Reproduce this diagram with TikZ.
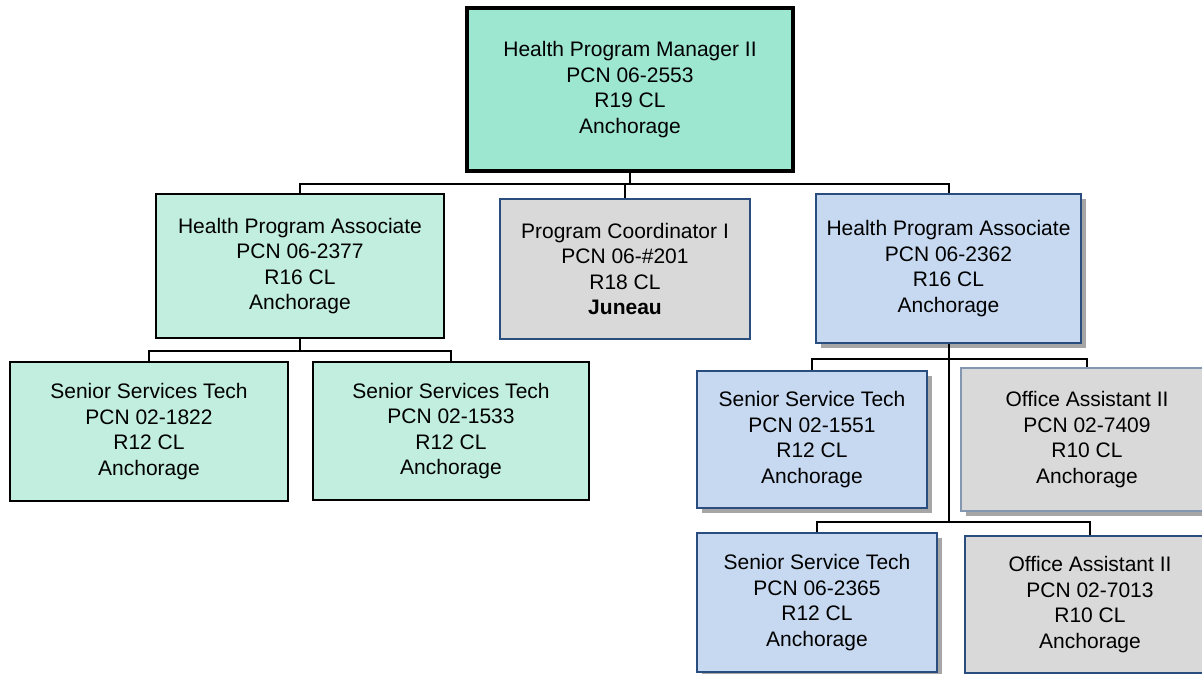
\documentclass[tikz,border=0pt]{standalone}
\usepackage{fontspec}
\setmainfont{Liberation Sans}
\usepackage{tikz}
\definecolor{head-fill}{HTML}{9DE6CF}
\definecolor{mint-fill}{HTML}{C1EEDF}
\definecolor{blue-fill}{HTML}{C6D9F1}
\definecolor{blue-line}{HTML}{2A4D80}
\definecolor{grey-fill}{HTML}{D9D9D9}
\definecolor{grey-line}{HTML}{8497B0}
\usetikzlibrary{shadows}

\begin{document}
\begin{tikzpicture}[x=1pt,y=-1pt,
  every node/.style={font=\fontsize{21}{25.5}\selectfont,align=center,inner sep=0pt},
  post/.style={rectangle,draw,line width=1.5pt},
  shade/.style={drop shadow={shadow xshift=5pt,shadow yshift=-5pt,fill=black!35,opacity=1}},
  link/.style={line width=2pt}]
\useasboundingbox (0,0) rectangle (1202,673);
\clip (0,0) rectangle (1202,673);
\path
(630,89.5)  node[post,line width=3.6pt,fill=head-fill,minimum width=326,minimum height=163] (mgr)
            {Health Program Manager II\\PCN 06-2553\\R19 CL\\Anchorage}
(300,266)   node[post,fill=mint-fill,minimum width=288,minimum height=144] (hpaL)
            {Health Program Associate\\PCN 06-2377\\R16 CL\\Anchorage}
(625,269)   node[post,draw=blue-line,fill=grey-fill,minimum width=250,minimum height=140] (pc)
            {Program Coordinator I\\PCN 06-\#201\\R18 CL\\\textbf{Juneau}}
(948.5,268.5) node[post,shade,draw=blue-line,fill=blue-fill,minimum width=265,minimum height=149] (hpaR)
            {Health Program Associate\\PCN 06-2362\\R16 CL\\Anchorage}
(149,431.5) node[post,fill=mint-fill,minimum width=278,minimum height=139] (sstA)
            {Senior Services Tech\\PCN 02-1822\\R12 CL\\Anchorage}
(451,431)   node[post,fill=mint-fill,minimum width=276,minimum height=138] (sstB)
            {Senior Services Tech\\PCN 02-1533\\R12 CL\\Anchorage}
(812,439.5) node[post,shade,draw=blue-line,fill=blue-fill,minimum width=230,minimum height=137] (sstC)
            {Senior Service Tech\\PCN 02-1551\\R12 CL\\Anchorage}
(1087,439.5) node[post,shade,draw=grey-line,fill=grey-fill,minimum width=252,minimum height=143] (oaA)
            {Office Assistant II\\PCN 02-7409\\R10 CL\\Anchorage}
(817,602.5) node[post,shade,draw=blue-line,fill=blue-fill,minimum width=240,minimum height=139] (sstD)
            {Senior Service Tech\\PCN 06-2365\\R12 CL\\Anchorage}
(1090,604.5) node[post,shade,draw=blue-line,fill=grey-fill,minimum width=250,minimum height=137] (oaB)
            {Office Assistant II\\PCN 02-7013\\R10 CL\\Anchorage};
% top level
\draw[link] (mgr.south) -- ++(0,11) -| (hpaL.north);
\draw[link] (mgr.south) -- ++(0,11) -| (pc.north);
\draw[link] (mgr.south) -- ++(0,11) -| (hpaR.north);
% left branch
\draw[link] (hpaL.south) -- ++(0,12) -| (sstA.north);
\draw[link] (hpaL.south) -- ++(0,12) -| (sstB.north);
% right branch
\draw[link] (hpaR.south) -- ++(0,15) -| (sstC.north);
\draw[link] (hpaR.south) -- ++(0,15) -| (oaA.north);
\draw[link] (hpaR.south) -- ++(0,178) -| (sstD.north);
\draw[link] (hpaR.south) -- ++(0,178) -| (oaB.north);
\end{tikzpicture}
\end{document}
